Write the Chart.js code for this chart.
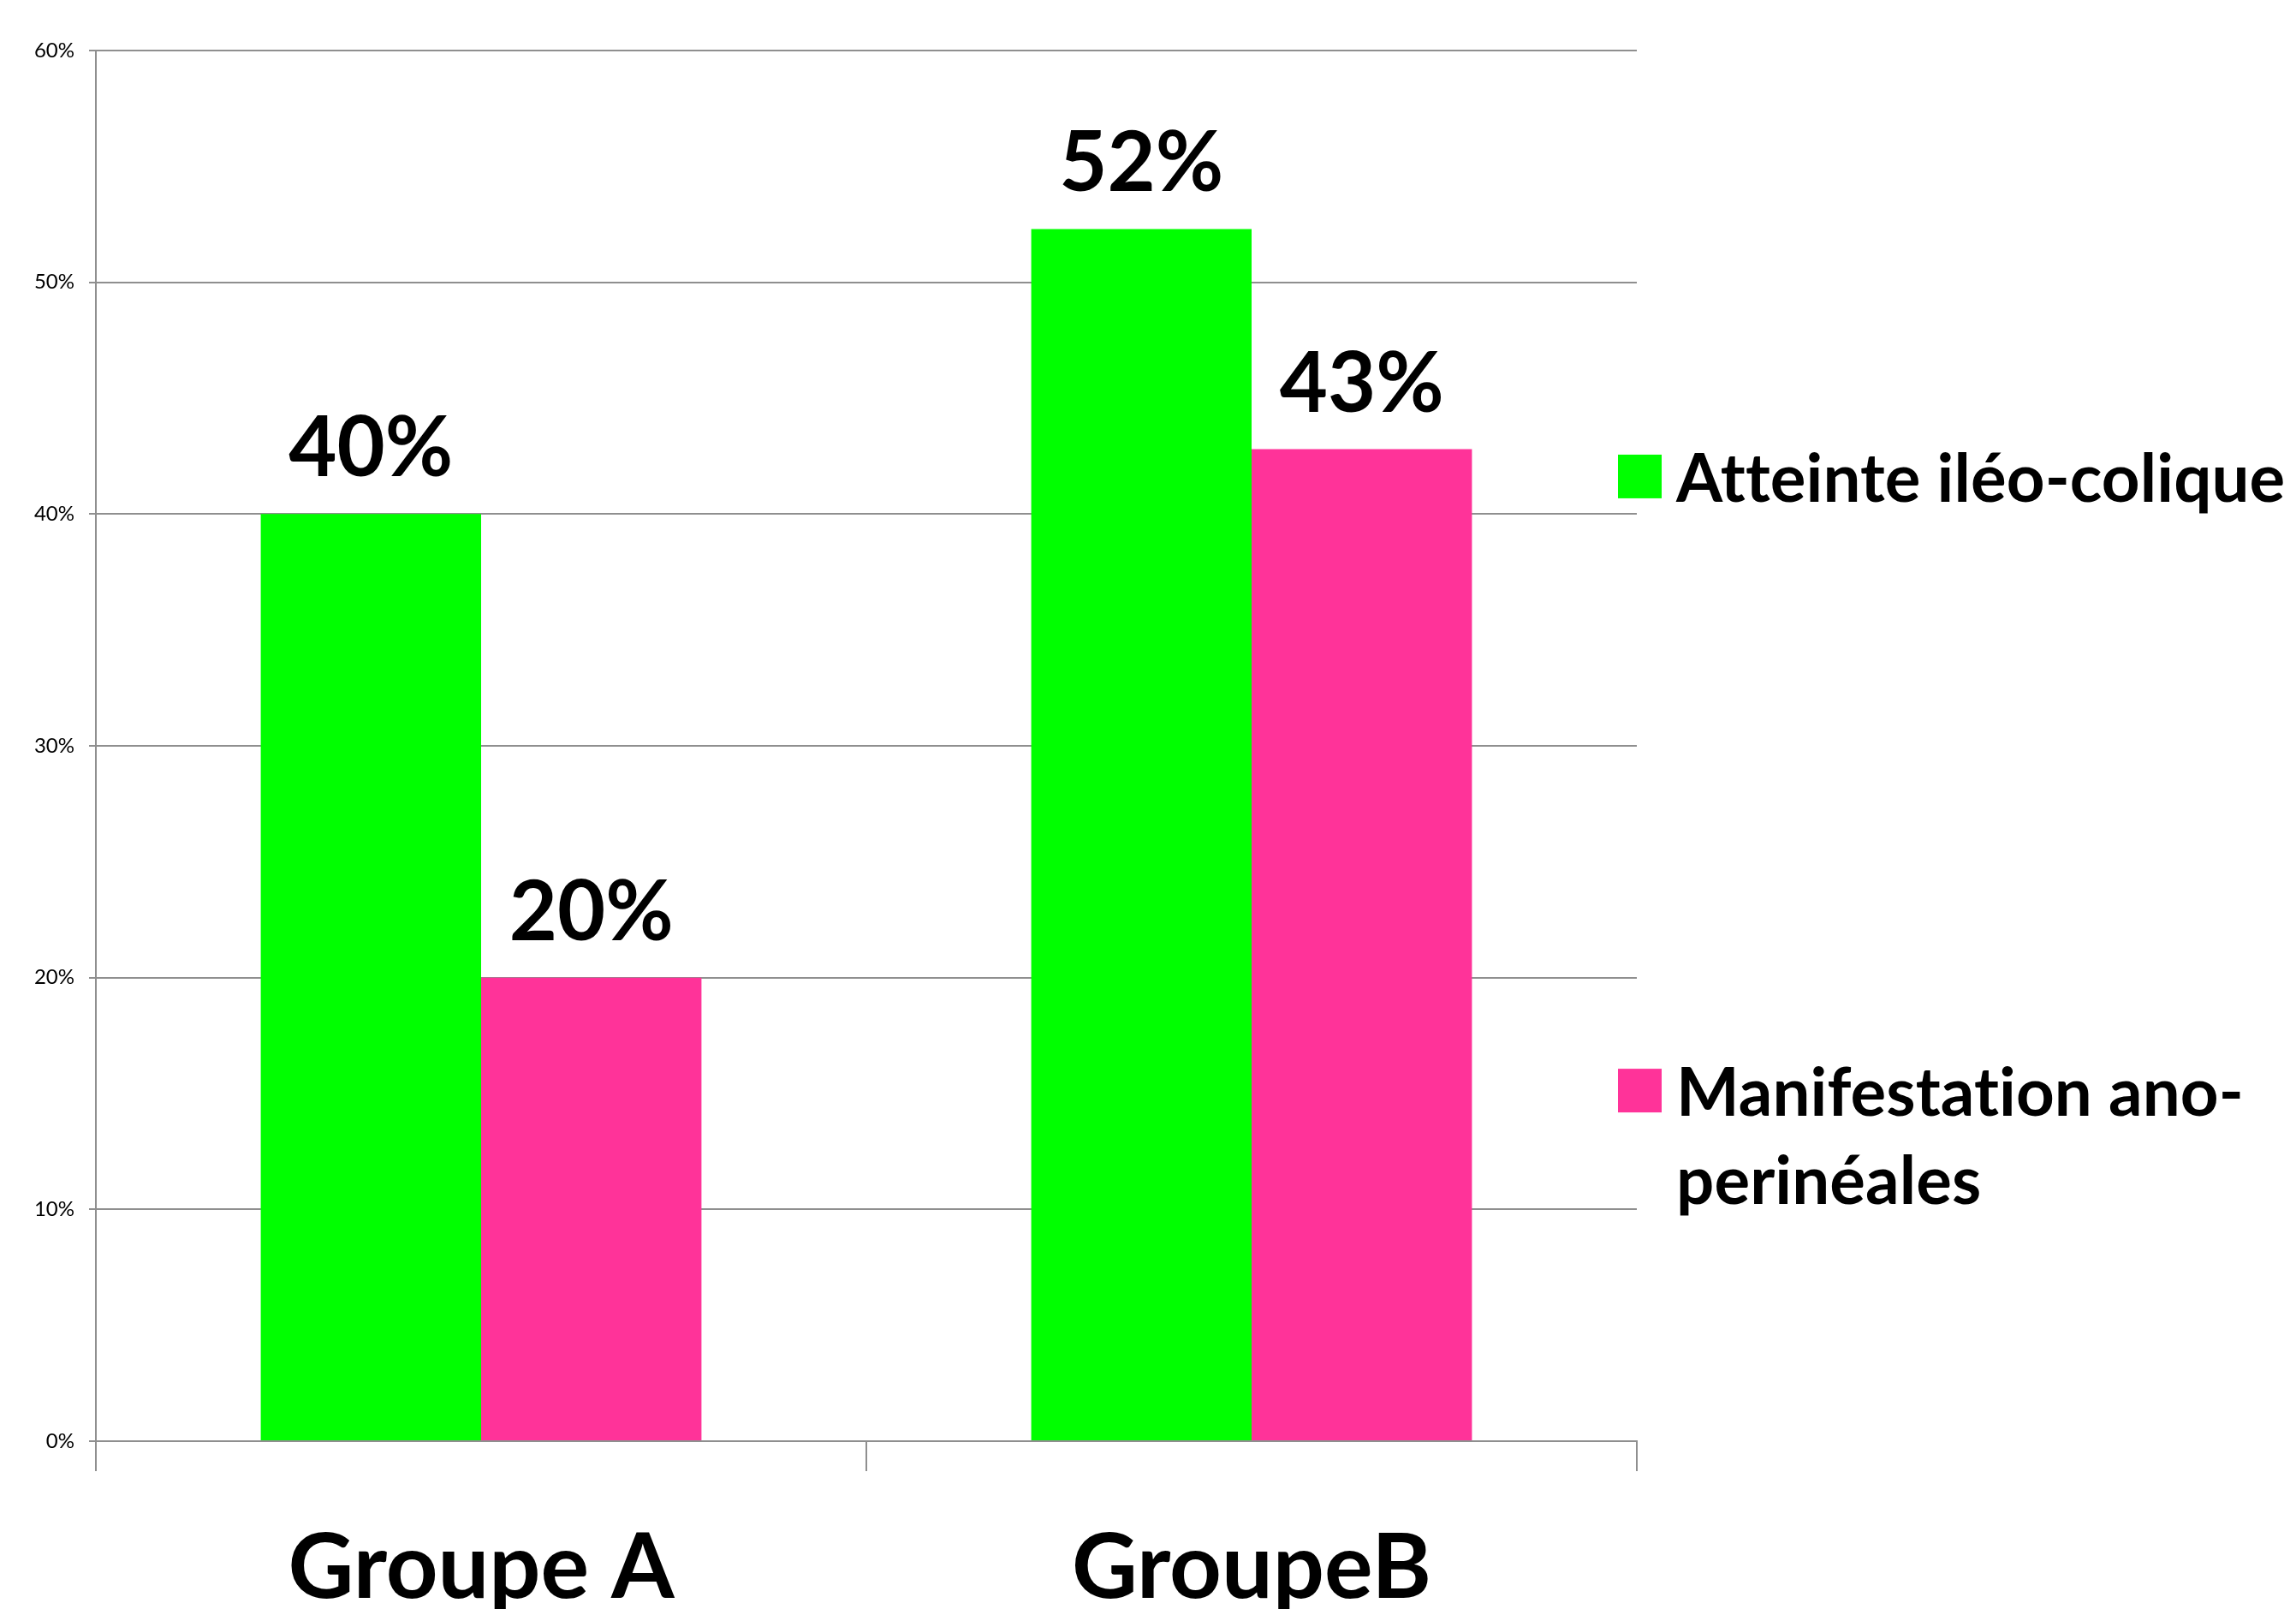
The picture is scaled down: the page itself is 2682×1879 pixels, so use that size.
<!DOCTYPE html>
<html>
<head>
<meta charset="utf-8">
<script src="https://cdn.jsdelivr.net/npm/chart.js@4.4.1/dist/chart.umd.min.js"></script>
<style>
  html, body { margin: 0; padding: 0; background: #ffffff; }
  #wrap { width: 2682px; height: 1879px; position: relative; }
</style>
</head>
<body>
<div id="wrap"><canvas id="c"></canvas></div>
<script>
// Categories, series and axis ticks
const categories = ['Groupe A', 'GroupeB'];
const seriesNames = ['Atteinte iléo-colique', 'Manifestation ano-perinéales'];
const ileoColique = [40, 52.3];
const anoPerineales = [20, 42.8];
const yTickValues = [0, 10, 20, 30, 40, 50, 60];

const GREEN = '#00ff00';
const PINK = '#ff3399';
const GRID = '#8f8f8f';
const FONT = 'Lato, "Open Sans", sans-serif';

// Value labels above each bar
const valueLabels = {
  id: 'valueLabels',
  afterDatasetsDraw(chart) {
    const ctx = chart.ctx;
    ctx.save();
    ctx.font = 'bold 97px ' + FONT;
    ctx.fillStyle = '#000000';
    ctx.textAlign = 'center';
    ctx.textBaseline = 'alphabetic';
    chart.data.datasets.forEach((ds, i) => {
      const meta = chart.getDatasetMeta(i);
      meta.data.forEach((bar, j) => {
        const v = ds.data[j];
        ctx.fillText(Math.round(v) + '%', bar.x, bar.y - 44);
      });
    });
    ctx.restore();
  }
};

// Legend on the right, with wrapped labels
const sideLegend = {
  id: 'sideLegend',
  afterDraw(chart) {
    const { ctx, chartArea } = chart;
    ctx.save();
    ctx.font = 'bold 78px ' + FONT;
    if ('letterSpacing' in ctx) ctx.letterSpacing = '0.1px'; // keeps "ti" as separate glyphs
    ctx.textBaseline = 'alphabetic';
    ctx.textAlign = 'left';
    const box = 51;
    const capH = 55;
    const lineH = 103;
    const boxX = chartArea.right - 22;
    const textX = boxX + 68;
    const maxW = chart.width - textX;
    const fractions = [0.2906, 0.7322];
    chart.data.datasets.forEach((ds, i) => {
      const top = chartArea.top + fractions[i] * (chartArea.bottom - chartArea.top);
      ctx.fillStyle = ds.backgroundColor;
      ctx.fillRect(boxX, top, box, box);
      // break text at spaces / hyphens to fit the available width
      const parts = ds.label.match(/[^\s-]+-?\s*/g);
      const lines = [];
      let cur = '';
      parts.forEach(p => {
        const test = cur + p;
        if (cur && ctx.measureText(test.trimEnd()).width > maxW) {
          lines.push(cur.trimEnd());
          cur = p;
        } else {
          cur = test;
        }
      });
      if (cur) lines.push(cur.trimEnd());
      ctx.fillStyle = '#000000';
      lines.forEach((ln, k) => ctx.fillText(ln, textX, top + capH + k * lineH));
    });
    ctx.restore();
  }
};

new Chart(document.getElementById('c'), {
  type: 'bar',
  data: {
    labels: categories,
    datasets: [
      { label: seriesNames[0], data: ileoColique, backgroundColor: GREEN, borderWidth: 0 },
      { label: seriesNames[1], data: anoPerineales, backgroundColor: PINK, borderWidth: 0 }
    ]
  },
  options: {
    responsive: true,
    maintainAspectRatio: false,
    animation: false,
    events: [],
    layout: { padding: { top: 59, right: 770, left: 0, bottom: 0 } },
    datasets: { bar: { categoryPercentage: 0.572, barPercentage: 1.0 } },
    plugins: {
      legend: { display: false },
      tooltip: { enabled: false },
      title: { display: false }
    },
    scales: {
      x: {
        grid: { display: true, drawOnChartArea: false, drawTicks: true, tickLength: 35, offset: true, color: GRID, lineWidth: 2 },
        border: { display: true, color: GRID, width: 2 },
        ticks: { color: '#000000', font: { family: FONT, size: 106, weight: 'bold' }, padding: 50, maxRotation: 0 },
        afterFit: s => { s.height = 196; }
      },
      y: {
        min: 0,
        max: 60,
        afterBuildTicks: s => { s.ticks = yTickValues.map(v => ({ value: v })); },
        grid: { color: GRID, lineWidth: 2, drawTicks: true, tickLength: 8 },
        border: { display: true, color: GRID, width: 2 },
        ticks: { color: '#000000', font: { family: FONT, size: 24 }, padding: 17, callback: v => v + '%' },
        afterFit: s => { s.width = 112; }
      }
    }
  },
  plugins: [valueLabels, sideLegend]
});
</script>
</body>
</html>
